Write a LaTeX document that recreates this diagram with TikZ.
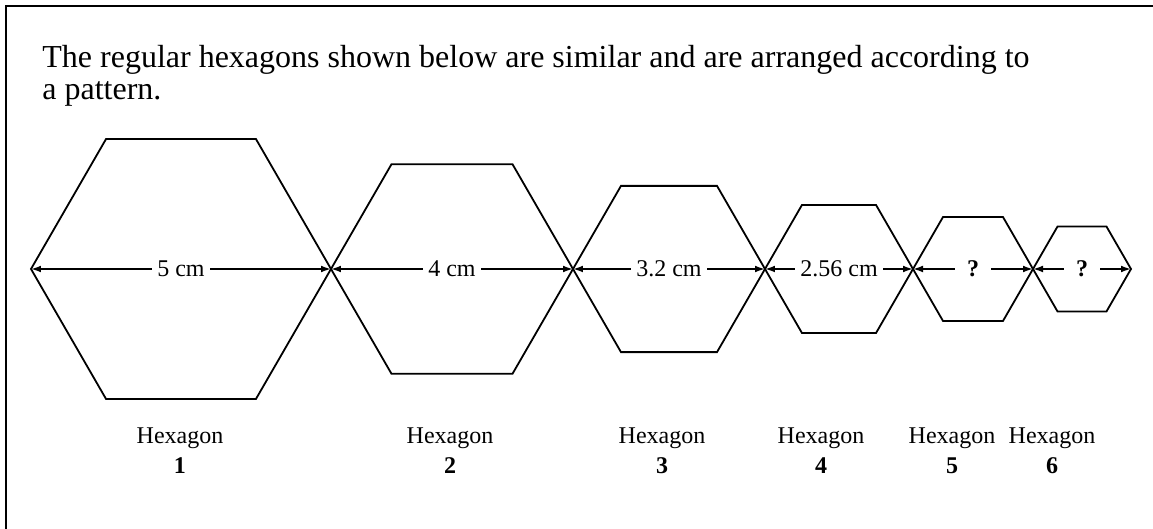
\documentclass[tikz,border=0pt]{standalone}
\usepackage{fontspec}
\setmainfont{Liberation Serif}
\usetikzlibrary{shapes.geometric,arrows.meta}

\begin{document}
\begin{tikzpicture}[x=0.5pt,y=-0.5pt,
  hexa/.style={draw,regular polygon,regular polygon sides=6,
    inner sep=0pt,outer sep=0pt,line width=0.9pt},
  dim/.style={{Latex[length=5pt,width=3.4pt]}-{Latex[length=5pt,width=3.4pt]},
    line width=0.8pt},
  gap/.style={fill=white,inner sep=2.5pt,font=\fontsize{12}{14}\selectfont},
  caption/.style={align=center,anchor=north,inner sep=0pt,
    font=\fontsize{12}{15}\selectfont}]

\useasboundingbox (0,0) rectangle (1153,529);

% frame
\draw[line width=0.9pt] (6,529) -- (6,6) -- (1153,6);

\node[anchor=north west,align=left,inner sep=0pt,
  font=\fontsize{16}{16}\selectfont]
(title)
at (42,45)
{The regular hexagons shown below are similar and are arranged according to\\
a pattern.};

% hexagons
\node[hexa,minimum size=150pt] (h1) at (181,269) {};
\node[hexa,minimum size=121pt] (h2) at (452,269) {};
\node[hexa,minimum size=96pt] (h3) at (669,269) {};
\node[hexa,minimum size=74pt] (h4) at (839,269) {};
\node[hexa,minimum size=60pt] (h5) at (973,269) {};
\node[hexa,minimum size=49pt] (h6) at (1082,269) {};

% dimensions
\draw[dim] (h1.west) -- node[gap] {5 cm} (h1.east);
\draw[dim] (h2.west) -- node[gap] {4 cm} (h2.east);
\draw[dim] (h3.west) -- node[gap] {3.2 cm} (h3.east);
\draw[dim] (h4.west) -- node[gap] {2.56 cm} (h4.east);
\draw[dim] (h5.west) -- node[gap,inner xsep=6pt] {\textbf{?}} (h5.east);
\draw[dim] (h6.west) -- node[gap,inner xsep=6pt] {\textbf{?}} (h6.east);

% captions
\node[caption] (c1) at (180,427) {Hexagon\\\textbf{1}};
\node[caption] (c2) at (450,427) {Hexagon\\\textbf{2}};
\node[caption] (c3) at (662,427) {Hexagon\\\textbf{3}};
\node[caption] (c4) at (821,427) {Hexagon\\\textbf{4}};
\node[caption] (c5) at (952,427) {Hexagon\\\textbf{5}};
\node[caption] (c6) at (1052,427) {Hexagon\\\textbf{6}};

\end{tikzpicture}
\end{document}
